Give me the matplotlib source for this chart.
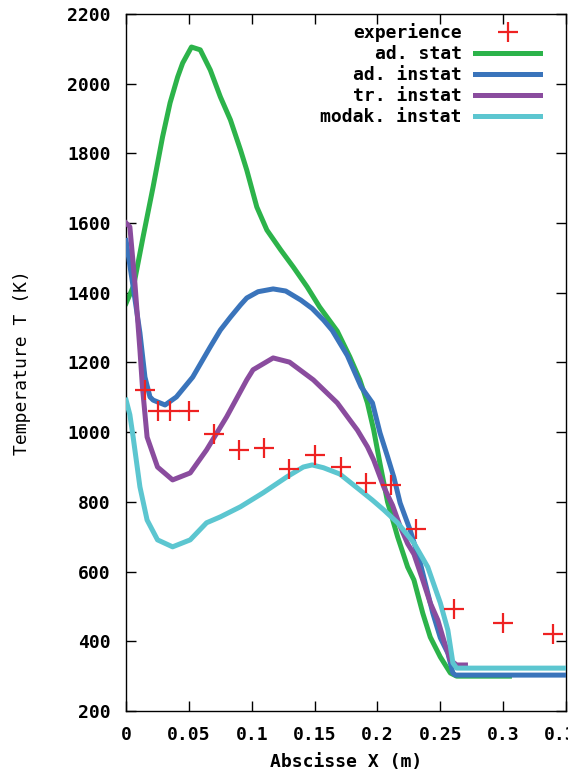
#! /usr/bin/env python3
import matplotlib
matplotlib.use("Agg")
import matplotlib.pyplot as plt

# experimental points
x_exp = [0.015, 0.025, 0.035, 0.050, 0.070, 0.090, 0.110, 0.130, 0.150,
         0.171, 0.191, 0.211, 0.231, 0.261, 0.300, 0.340]
y_exp = [1120, 1060, 1060, 1060, 995, 950, 955, 895, 935,
         900, 855, 848, 722, 493, 453, 421]

# ad. stat
x_ad_stat = [0, 0.006, 0.0135, 0.0215, 0.029, 0.035, 0.041, 0.045, 0.052, 0.059,
             0.067, 0.075, 0.083, 0.091, 0.096, 0.104, 0.112, 0.123, 0.133, 0.144,
             0.154, 0.168, 0.178, 0.186, 0.192, 0.197, 0.202, 0.208, 0.216, 0.224,
             0.229, 0.236, 0.242, 0.250, 0.258, 0.263, 0.305]
y_ad_stat = [1370, 1420, 1560, 1704, 1847, 1945, 2019, 2059, 2105, 2097,
             2039, 1962, 1896, 1810, 1752, 1646, 1580, 1523, 1474, 1417,
             1359, 1290, 1216, 1150, 1084, 1006, 910, 800, 700, 613,
             576, 481, 412, 355, 309, 300, 300]

# ad. instat
x_ad_instat = [0, 0.0056, 0.011, 0.015, 0.019, 0.0215, 0.031, 0.040, 0.053, 0.067,
               0.075, 0.083, 0.091, 0.096, 0.105, 0.117, 0.127, 0.139, 0.148, 0.157,
               0.164, 0.170, 0.176, 0.181, 0.187, 0.196, 0.202, 0.208, 0.213, 0.218,
               0.226, 0.234, 0.244, 0.250, 0.256, 0.260, 0.262, 0.350]
y_ad_instat = [1550, 1417, 1285, 1158, 1101, 1092, 1078, 1101, 1158, 1245,
               1293, 1330, 1365, 1385, 1403, 1411, 1405, 1379, 1355, 1322,
               1292, 1256, 1220, 1179, 1130, 1084, 998, 930, 871, 797,
               719, 625, 481, 410, 366, 309, 303, 303]

# tr. instat
x_tr_instat = [0, 0.003, 0.007, 0.011, 0.013, 0.0167, 0.025, 0.037, 0.051, 0.064,
               0.080, 0.096, 0.101, 0.117, 0.130, 0.149, 0.168, 0.178, 0.184, 0.192,
               0.197, 0.205, 0.212, 0.218, 0.224, 0.229, 0.236, 0.242, 0.248, 0.253,
               0.258, 0.263, 0.270]
y_tr_instat = [1600, 1589, 1428, 1236, 1130, 986, 900, 863, 883, 949,
               1044, 1150, 1179, 1213, 1201, 1150, 1084, 1035, 1006, 958,
               920, 843, 790, 730, 680, 650, 576, 510, 461, 400,
               346, 332, 332]

# modak. instat
x_modak = [0, 0.003, 0.0056, 0.011, 0.0167, 0.025, 0.037, 0.051, 0.064, 0.075,
           0.091, 0.109, 0.128, 0.141, 0.148, 0.157, 0.170, 0.186, 0.196, 0.205,
           0.216, 0.229, 0.240, 0.250, 0.256, 0.260, 0.263, 0.350]
y_modak = [1092, 1050, 986, 843, 748, 691, 671, 691, 740, 757,
           786, 826, 872, 900, 906, 898, 880, 834, 805, 777,
           740, 682, 613, 510, 432, 338, 323, 323]

plt.rcParams['font.family'] = ['DejaVu Sans Mono']
plt.rcParams['font.weight'] = 'bold'

fig = plt.figure(figsize=(5.68, 7.74), dpi=100)
ax = fig.add_axes([0.222, 0.0814, 0.7745, 0.9006])

lw = 3.6
ax.plot(x_exp, y_exp, linestyle='none', marker='+', color='#ee2222',
        markersize=15, markeredgewidth=1.6, label='experience', zorder=6)
ax.plot(x_ad_stat, y_ad_stat, color='#2cb34a', lw=lw, label='ad. stat', zorder=2)
ax.plot(x_ad_instat, y_ad_instat, color='#3a74bb', lw=lw, label='ad. instat', zorder=3)
ax.plot(x_tr_instat, y_tr_instat, color='#8a4c9e', lw=lw, label='tr. instat', zorder=4)
ax.plot(x_modak, y_modak, color='#5cc6d0', lw=lw, label='modak. instat', zorder=5)

ax.set_xlim(0, 0.35)
ax.set_ylim(200, 2200)
ax.set_xticks([0, 0.05, 0.1, 0.15, 0.2, 0.25, 0.3, 0.35])
ax.set_xticklabels(['0', '0.05', '0.1', '0.15', '0.2', '0.25', '0.3', '0.35'])
ax.set_yticks(range(200, 2201, 200))
ax.tick_params(direction='in', length=7, width=1, top=True, right=True,
               labelsize=13)
ax.tick_params(axis='y', pad=11)
ax.tick_params(axis='x', pad=11)
for s in ax.spines.values():
    s.set_linewidth(1)

ax.set_xlabel('Abscisse X (m)', fontsize=13, fontweight='bold', labelpad=6)
ax.set_ylabel('Temperature T (K)', fontsize=13, fontweight='normal', labelpad=26)

leg = ax.legend(loc='upper right', bbox_to_anchor=(0.962, 1.0), frameon=False,
                markerfirst=False, fontsize=13, handlelength=3.6,
                labelspacing=0.17, handletextpad=0.75, borderaxespad=0.1)

fig.savefig('out.png', dpi=100)
